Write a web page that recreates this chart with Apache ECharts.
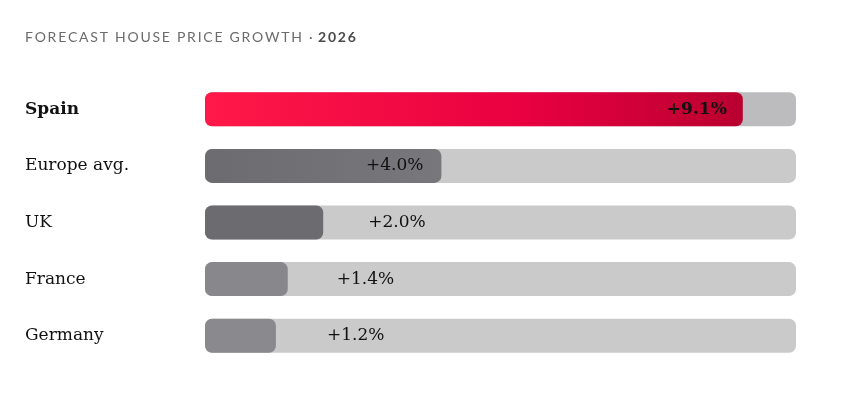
<!DOCTYPE html>
<html>
<head>
<meta charset="utf-8">
<script src="https://cdn.jsdelivr.net/npm/echarts@6/dist/echarts.min.js"></script>
<style>
  html, body { margin: 0; padding: 0; background: #fff; }
  #chart { width: 846px; height: 404px; }
</style>
</head>
<body>
<div id="chart"></div>
<script>
// forecast growth 2026, in %
var countries = ['Spain', 'Europe avg.', 'UK', 'France', 'Germany'];
var growth = [9.1, 4.0, 2.0, 1.4, 1.2];
var valueLabels = ['+9.1%', '+4.0%', '+2.0%', '+1.4%', '+1.2%'];
var scaleMax = 10;

var chart = echarts.init(document.getElementById('chart'));

// tracked caps: two hair spaces between letters
function track(s) {
    return s.split('').join('\u200A\u200A');
}

var fills = [
    new echarts.graphic.LinearGradient(0, 0, 1, 0, [
        { offset: 0, color: '#ff1848' },
        { offset: 0.6, color: '#e80040' },
        { offset: 1, color: '#b9002f' }
    ]),
    new echarts.graphic.LinearGradient(0, 0, 1, 0, [
        { offset: 0, color: '#6c6c70' }, { offset: 1, color: '#78787c' }
    ]),
    '#6c6c70', '#88888c', '#8a8a8e'
];
var trackColors = ['#bcbcbf', '#cacaca', '#cacaca', '#cacaca', '#cacaca'];
// label placement: inside for long bars, offset to the right for short ones
var labelPos = ['insideRight', 'insideRight', 'right', 'right', 'right'];
var labelDist = [16, 18, 45, 49, 51];

var option = {
    backgroundColor: '#fff',
    title: {
        text: track('FORECAST HOUSE PRICE GROWTH ·') + '\u200A\u200A {b|' + track('2026') + '}',
        left: 20,
        top: 25,
        textStyle: {
            fontFamily: 'Lato',
            fontSize: 14,
            fontWeight: 'normal',
            color: '#6b6b6b',
            rich: {
                b: { fontFamily: 'Lato', fontSize: 14, fontWeight: 'bold', color: '#4a4a4a' }
            }
        }
    },
    grid: { left: 205, right: 50, top: 81, bottom: 40 },
    xAxis: { type: 'value', min: 0, max: scaleMax, show: false },
    yAxis: {
        type: 'category',
        inverse: true,
        data: countries,
        axisLine: { show: false },
        axisTick: { show: false },
        axisLabel: {
            align: 'left',
            margin: 180,
            fontFamily: 'DejaVu Serif',
            fontSize: 17,
            color: '#111',
            formatter: function (v, i) {
                return i === 0 ? '{b|' + v + '}' : v;
            },
            rich: {
                b: { fontFamily: 'DejaVu Serif', fontSize: 17, fontWeight: 'bold', color: '#111' }
            }
        }
    },
    series: [
        {
            type: 'bar',
            barWidth: 34,
            silent: true,
            z: 1,
            data: countries.map(function (c, i) {
                return { value: scaleMax, itemStyle: { color: trackColors[i] } };
            }),
            itemStyle: { borderRadius: 7 }
        },
        {
            type: 'bar',
            barWidth: 34,
            barGap: '-100%',
            z: 2,
            data: growth.map(function (v, i) {
                return {
                    value: v,
                    itemStyle: { color: fills[i] },
                    label: {
                        position: labelPos[i],
                        distance: labelDist[i],
                        fontWeight: i === 0 ? 'bold' : 'normal'
                    }
                };
            }),
            itemStyle: { borderRadius: 7 },
            label: {
                show: true,
                fontFamily: 'DejaVu Serif',
                fontSize: 17,
                color: '#111',
                formatter: function (p) { return valueLabels[p.dataIndex]; }
            }
        }
    ]
};

chart.setOption(option);
</script>
</body>
</html>
